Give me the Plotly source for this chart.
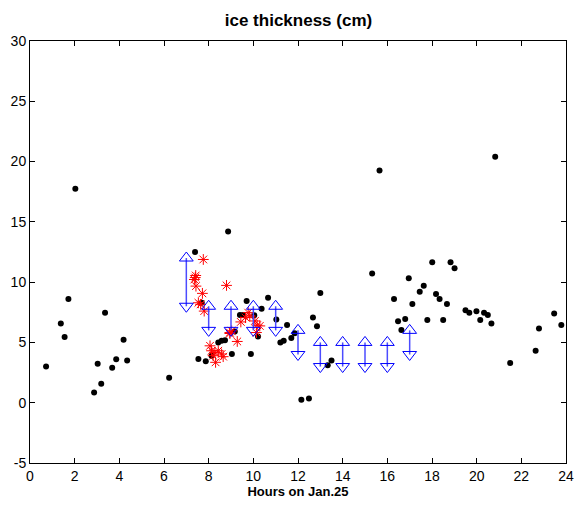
import plotly.graph_objects as go

# Black dots: observations
obs_x = [0.72, 1.38, 1.55, 1.72, 2.03, 2.87, 3.03, 3.19, 3.36, 3.68, 3.86, 4.19, 4.35,
         6.23, 7.39, 7.54, 7.69, 7.87, 8.13, 8.43, 8.58, 8.73, 8.87, 9.04, 9.17, 9.40,
         9.55, 9.70, 9.89, 10.04, 10.21, 10.37, 10.66, 11.03, 11.21, 11.36, 11.51, 11.70,
         11.85, 12.15, 12.49, 12.67, 12.85, 13.00, 13.33, 13.50, 15.32, 15.65, 16.30,
         16.48, 16.63, 16.80, 16.96, 17.12, 17.45, 17.63, 17.79, 18.01, 18.18, 18.34,
         18.50, 18.67, 18.83, 19.01, 19.50, 19.67, 19.99, 20.16, 20.33, 20.50, 20.66,
         20.83, 21.50, 22.64, 22.79, 23.47, 23.79]
obs_y = [3.0, 6.56, 5.44, 8.6, 17.75, 0.85, 3.23, 1.57, 7.47, 2.89, 3.6, 5.22, 3.51,
         2.07, 12.5, 3.63, 8.29, 3.43, 3.9, 5.0, 5.14, 5.19, 14.2, 4.04, 5.9, 7.28,
         7.28, 8.43, 4.04, 7.25, 5.49, 7.8, 8.7, 6.9, 5.0, 5.14, 6.45, 5.36,
         5.77, 0.25, 0.35, 7.06, 6.35, 9.09, 3.1, 3.51, 10.72, 19.26, 8.6,
         6.76, 6.04, 6.95, 10.33, 8.19, 9.2, 9.7, 6.87, 11.65, 9.01, 8.6,
         6.87, 8.19, 11.65, 11.15, 7.66, 7.47, 7.58, 6.87, 7.47, 7.28, 6.56,
         20.39, 3.3, 4.31, 6.15, 7.39, 6.45]

# Red stars
star_x = [7.76, 7.42, 7.36, 7.40, 7.43, 7.72, 8.80, 7.54, 7.64, 7.80, 9.77, 9.65, 9.84,
          9.44, 10.07, 10.29, 10.17, 10.14, 8.95, 9.03, 8.95, 9.28, 8.06, 8.13, 8.28,
          8.43, 8.58, 8.20, 8.31, 8.65]
star_y = [11.88, 10.55, 10.22, 10.38, 9.67, 9.07, 9.73, 8.29, 8.16, 7.6, 7.47, 7.06, 7.2,
          6.7, 6.78, 6.37, 6.43, 5.82, 5.82, 5.96, 5.74, 5.08, 4.72, 4.31, 4.17,
          4.31, 4.04, 3.9, 3.35, 3.82]

# Blue ranges
rng_x = [7, 8, 9, 10, 11, 12, 13, 14, 15, 16, 17]
rng_low = [8, 6, 6, 6, 6, 4, 3, 3, 3, 3, 4]
rng_high = [12, 8, 8, 8, 8, 6, 5, 5, 5, 5, 6]

x_ticks = list(range(0, 25, 2))
y_ticks = list(range(-5, 31, 5))

FONT = "Arial, Liberation Sans, sans-serif"

fig = go.Figure()

fig.add_trace(go.Scatter(x=obs_x, y=obs_y, mode="markers",
                         marker=dict(color="black", size=6), showlegend=False))
fig.add_trace(go.Scatter(x=star_x, y=star_y, mode="markers",
                         marker=dict(symbol="asterisk-open", color="red", size=9,
                                     line=dict(color="red", width=1)),
                         showlegend=False))

lx, ly = [], []
for x, lo, hi in zip(rng_x, rng_low, rng_high):
    lx += [x, x, None]
    ly += [lo, hi, None]
fig.add_trace(go.Scatter(x=lx, y=ly, mode="lines",
                         line=dict(color="#4b4bff", width=1.5), showlegend=False))
fig.add_trace(go.Scatter(x=rng_x, y=rng_high, mode="markers",
                         marker=dict(symbol="triangle-up-open", color="blue", size=12,
                                     line=dict(color="blue", width=1)),
                         showlegend=False))
fig.add_trace(go.Scatter(x=rng_x, y=rng_low, mode="markers",
                         marker=dict(symbol="triangle-down-open", color="blue", size=12,
                                     line=dict(color="blue", width=1)),
                         showlegend=False))

axis_common = dict(showline=True, linecolor="black", linewidth=1, mirror="ticks",
                   ticks="inside", ticklen=5, tickcolor="black", showgrid=False,
                   zeroline=False, automargin=False, ticklabeloverflow="allow",
                   tickfont=dict(family=FONT, size=14, color="black"))

fig.update_layout(
    width=574, height=506,
    paper_bgcolor="white", plot_bgcolor="white",
    hovermode=False,
    margin=dict(l=30, r=8, t=41, b=43),
    title=dict(text="<b>ice thickness (cm)</b>", x=0.52, xanchor="center",
               y=0.96, yanchor="middle", automargin=False,
               font=dict(family=FONT, size=17, color="black")),
    xaxis=dict(range=[0, 24], tickvals=x_ticks, ticktext=[str(v) for v in x_ticks],
               title=dict(text="<b>Hours on Jan.25</b>", standoff=4,
                          font=dict(family=FONT, size=13, color="black")),
               **axis_common),
    yaxis=dict(range=[-5, 30], tickvals=y_ticks, ticktext=[str(v) for v in y_ticks],
               **axis_common),
)

fig.write_html(
    "out.html",
    config={"displayModeBar": False, "staticPlot": True},
    post_script="document.body.style.margin='0';document.body.style.overflow='hidden';",
)
